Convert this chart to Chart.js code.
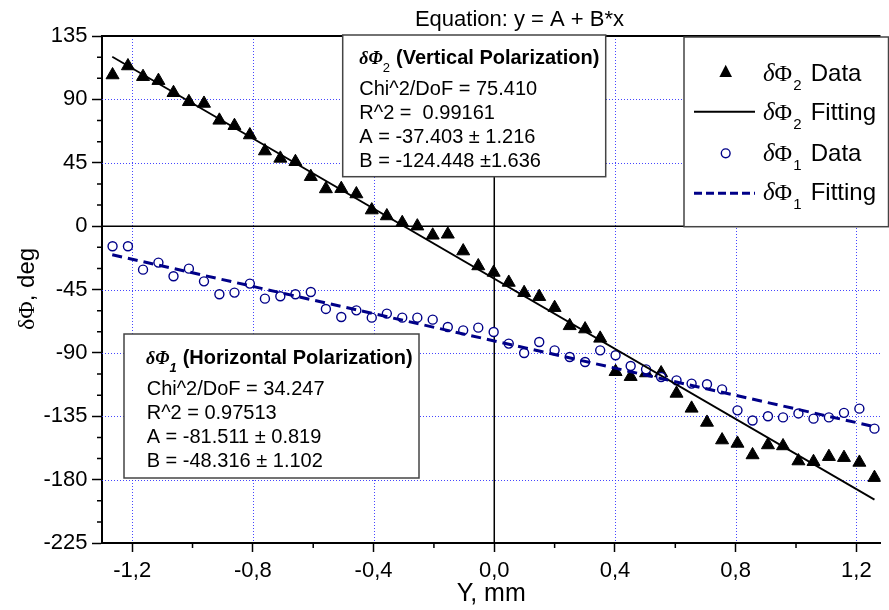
<!DOCTYPE html>
<html>
<head>
<meta charset="utf-8">
<title>dPhi vs Y</title>
<script src="https://cdn.jsdelivr.net/npm/chart.js@4.4.1/dist/chart.umd.min.js"></script>
<style>
	html, body { margin: 0; padding: 0; background: #fff; }
	#phaseChart { display: block; }
</style>
</head>
<body>
<canvas id="phaseChart" width="889" height="610"></canvas>
<script>
var xValues = [
	-1.265, -1.214, -1.164, -1.113, -1.063, -1.012, -0.962, -0.911, -0.861, -0.810,
	-0.760, -0.709, -0.659, -0.608, -0.558, -0.507, -0.457, -0.406, -0.356, -0.305,
	-0.255, -0.204, -0.154, -0.103, -0.053, -0.002, 0.048, 0.099, 0.149, 0.200,
	0.250, 0.301, 0.351, 0.402, 0.452, 0.503, 0.553, 0.604, 0.654, 0.705,
	0.755, 0.806, 0.856, 0.907, 0.957, 1.008, 1.058, 1.109, 1.159, 1.210, 1.260
];
// delta Phi 2 (vertical polarization), triangles
var phi2Data = [
	107.3, 113.7, 106.1, 103.3, 94.7, 88.3, 87.1, 75.1, 71.3, 64.7,
	53.3, 48.1, 45.7, 35.1, 26.4, 26.6, 22.8, 11.4, 7.2, 2.4,
	0.0, -6.5, -5.8, -17.7, -28.3, -32.9, -40.0, -47.3, -50.1, -57.9,
	-70.8, -73.1, -79.7, -103.4, -106.9, -104.3, -104.3, -118.8, -129.4, -139.4,
	-151.9, -154.3, -162.5, -155.4, -156.1, -166.8, -167.3, -163.7, -164.4, -167.8, -178.6
];
// delta Phi 1 (horizontal polarization), open circles
var phi1Data = [
	-14.3, -14.3, -30.9, -25.9, -35.6, -30.2, -39.2, -48.4, -47.2, -40.8,
	-51.5, -49.8, -48.4, -46.8, -58.8, -64.5, -59.8, -65.0, -62.1, -65.0,
	-65.0, -66.4, -71.6, -74.0, -72.1, -75.2, -83.4, -90.1, -82.3, -88.2,
	-92.9, -96.5, -88.2, -91.7, -99.3, -101.7, -107.1, -109.5, -111.8, -112.3,
	-115.9, -130.8, -138.0, -135.0, -135.8, -133.0, -136.7, -135.8, -132.6, -129.6, -143.8
];
// fitted lines, end points only
var fitX = [-1.266, 1.26];
var phi2Fit = [120.2, -194.2];
var phi1Fit = [-20.3, -142.4];

var xTicks = [-1.2, -0.8, -0.4, 0, 0.4, 0.8, 1.2];
var xMinorTicks = [-1.0, -0.6, -0.2, 0.2, 0.6, 1.0];
var yTicks = [-225, -180, -135, -90, -45, 0, 45, 90, 135];
var yMinorTicks = [-210, -195, -165, -150, -120, -105, -75, -60, -30, -15, 15, 30, 60, 75, 105, 120];

var titleText = 'Equation: y = A + B*x';
var phi2Lines = ['Chi^2/DoF = 75.410', 'R^2 =  0.99161', 'A = -37.403 \u00b1 1.216', 'B = -124.448 \u00b11.636'];
var phi1Lines = ['Chi^2/DoF = 34.247', 'R^2 = 0.97513', 'A = -81.511 \u00b1 0.819', 'B = -48.316 \u00b1 1.102'];

(function(window, document, undefined) {
	document.addEventListener('DOMContentLoaded', function() {
		var SANS = '"Liberation Sans", Arial, sans-serif';
		var SERIF = '"Liberation Serif", "Times New Roman", serif';
		var NAVY = '#000088';
		var GRID = 'rgba(50,50,255,0.9)';

		function toPoints(xs, ys) {
			return xs.map(function(x, i) {
				return { x: x, y: ys[i] };
			});
		}

		// draw a piece of text, return the x where the next piece starts
		function seg(ctx, text, font, x, y) {
			ctx.font = font;
			ctx.fillText(text, x, y);
			return x + ctx.measureText(text).width;
		}

		function box(ctx, x0, y0, x1, y1) {
			ctx.save();
			ctx.fillStyle = '#fff';
			ctx.fillRect(x0, y0, x1 - x0, y1 - y0);
			ctx.strokeStyle = '#444';
			ctx.lineWidth = 1.5;
			ctx.strokeRect(x0, y0, x1 - x0, y1 - y0);
			ctx.restore();
		}

		var decor = {
			id: 'decor',
			beforeDatasetsDraw: function(chart) {
				var ctx = chart.ctx;
				var area = chart.chartArea;
				var xs = chart.scales.x;
				var ys = chart.scales.y;

				ctx.save();
				// dotted blue grid
				ctx.strokeStyle = GRID;
				ctx.lineWidth = 1;
				ctx.setLineDash([1, 2]);
				xTicks.forEach(function(v) {
					if (v === 0) return;
					var px = Math.round(xs.getPixelForValue(v)) + 0.5;
					ctx.beginPath();
					ctx.moveTo(px, area.top);
					ctx.lineTo(px, area.bottom);
					ctx.stroke();
				});
				yTicks.forEach(function(v) {
					if (v === 0 || v === 135 || v === -225) return;
					var py = Math.round(ys.getPixelForValue(v)) + 0.5;
					ctx.beginPath();
					ctx.moveTo(area.left, py);
					ctx.lineTo(area.right, py);
					ctx.stroke();
				});
				ctx.setLineDash([]);

				// zero lines
				ctx.strokeStyle = '#000';
				ctx.lineWidth = 1.5;
				var x0 = xs.getPixelForValue(0);
				var y0 = ys.getPixelForValue(0);
				ctx.beginPath();
				ctx.moveTo(x0, area.top);
				ctx.lineTo(x0, area.bottom);
				ctx.moveTo(area.left, y0);
				ctx.lineTo(area.right, y0);
				ctx.stroke();

				// top frame
				ctx.lineWidth = 2;
				ctx.beginPath();
				ctx.moveTo(area.left, area.top);
				ctx.lineTo(area.right, area.top);
				ctx.stroke();

				// minor ticks, outward
				ctx.lineWidth = 1.5;
				ctx.beginPath();
				xMinorTicks.forEach(function(v) {
					var px = xs.getPixelForValue(v);
					ctx.moveTo(px, area.bottom);
					ctx.lineTo(px, area.bottom + 5);
				});
				yMinorTicks.forEach(function(v) {
					var py = ys.getPixelForValue(v);
					ctx.moveTo(area.left, py);
					ctx.lineTo(area.left - 5, py);
				});
				ctx.stroke();
				ctx.restore();
			},
			afterDatasetsDraw: function(chart) {
				var ctx = chart.ctx;
				var x;
				ctx.save();
				ctx.fillStyle = '#000';
				ctx.textBaseline = 'alphabetic';

				// title
				ctx.font = '22px ' + SANS;
				ctx.textAlign = 'center';
				ctx.fillText(titleText, 519.5, 26);
				ctx.textAlign = 'left';

				// y axis title
				ctx.save();
				ctx.translate(34, 289);
				ctx.rotate(-Math.PI / 2);
				ctx.font = '24px ' + SERIF;
				var w1 = ctx.measureText('\u03b4\u03a6').width;
				ctx.font = '24px ' + SANS;
				var w2 = ctx.measureText(', deg').width;
				x = -(w1 + w2) / 2;
				x = seg(ctx, '\u03b4\u03a6', '24px ' + SERIF, x, 0);
				seg(ctx, ', deg', '24px ' + SANS, x, 0);
				ctx.restore();

				// fit result, vertical polarization
				box(ctx, 342.7, 35, 605.7, 176.7);
				x = seg(ctx, '\u03b4\u03a6', 'italic bold 18px ' + SERIF, 359.3, 64);
				seg(ctx, '2', '13px ' + SANS, x, 71.5);
				seg(ctx, '(Vertical Polarization)', 'bold 20px ' + SANS, 396, 64);
				phi2Lines.forEach(function(t, i) {
					seg(ctx, t, '20px ' + SANS, 359.3, 95 + i * 24);
				});

				// fit result, horizontal polarization
				box(ctx, 124, 334, 419, 478);
				x = seg(ctx, '\u03b4\u03a6', 'italic bold 18px ' + SERIF, 146, 364);
				seg(ctx, '1', 'italic bold 13px ' + SANS, x, 371.5);
				seg(ctx, '(Horizontal Polarization)', 'bold 20px ' + SANS, 182.7, 364);
				phi1Lines.forEach(function(t, i) {
					seg(ctx, t, '20px ' + SANS, 146.7, 394.5 + i * 24);
				});

				// legend
				box(ctx, 684, 37, 888.5, 226.7);
				var entries = [
					{ sub: '2', word: 'Data', base: 80.7 },
					{ sub: '2', word: 'Fitting', base: 120.3 },
					{ sub: '1', word: 'Data', base: 160.5 },
					{ sub: '1', word: 'Fitting', base: 200 }
				];
				entries.forEach(function(e) {
					var lx = seg(ctx, '\u03b4', 'italic 25px ' + SERIF, 763, e.base);
					lx = seg(ctx, '\u03a6', '24px ' + SERIF, lx, e.base);
					seg(ctx, e.sub, '15px ' + SANS, lx + 1, e.base + 9);
					seg(ctx, e.word, '24px ' + SANS, 810.7, e.base);
				});

				// legend symbols
				ctx.beginPath();
				ctx.moveTo(725.7, 64.7);
				ctx.lineTo(732, 77);
				ctx.lineTo(719.4, 77);
				ctx.closePath();
				ctx.fill();

				ctx.strokeStyle = '#000';
				ctx.lineWidth = 2;
				ctx.beginPath();
				ctx.moveTo(694, 111.7);
				ctx.lineTo(755, 111.7);
				ctx.stroke();

				ctx.strokeStyle = NAVY;
				ctx.lineWidth = 1.4;
				ctx.beginPath();
				ctx.arc(725.7, 153.3, 4.4, 0, Math.PI * 2);
				ctx.stroke();

				ctx.lineWidth = 3;
				ctx.setLineDash([8, 4]);
				ctx.beginPath();
				ctx.moveTo(694, 193.3);
				ctx.lineTo(755, 193.3);
				ctx.stroke();
				ctx.setLineDash([]);

				ctx.restore();
			}
		};

		var ctx = document.querySelector('#phaseChart');
		var phaseChart = new Chart(ctx, {
			type: 'scatter',
			data: {
				datasets: [{
					label: '\u03b4\u03a62 Data',
					data: toPoints(xValues, phi2Data),
					pointStyle: 'triangle',
					pointRadius: 7.5,
					backgroundColor: '#000',
					borderColor: '#000',
					borderWidth: 1,
					showLine: false,
					order: 4
				}, {
					label: '\u03b4\u03a61 Data',
					data: toPoints(xValues, phi1Data),
					pointStyle: 'circle',
					pointRadius: 4.5,
					backgroundColor: '#fff',
					borderColor: NAVY,
					borderWidth: 1.4,
					showLine: false,
					order: 3
				}, {
					label: '\u03b4\u03a62 Fitting',
					data: toPoints(fitX, phi2Fit),
					showLine: true,
					pointRadius: 0,
					borderColor: '#000',
					borderWidth: 1.8,
					order: 2
				}, {
					label: '\u03b4\u03a61 Fitting',
					data: toPoints(fitX, phi1Fit),
					showLine: true,
					pointRadius: 0,
					borderColor: NAVY,
					borderWidth: 3,
					borderDash: [10, 6],
					order: 1
				}]
			},
			options: {
				responsive: false,
				animation: false,
				events: [],
				layout: {
					padding: { top: 36, right: 1, left: 0, bottom: 0 }
				},
				plugins: {
					legend: { display: false },
					title: { display: false },
					tooltip: { enabled: false }
				},
				scales: {
					x: {
						type: 'linear',
						min: -1.3,
						max: 1.28,
						afterFit: function(scale) {
							scale.height = 67;
						},
						afterBuildTicks: function(scale) {
							scale.ticks = xTicks.map(function(v) {
								return { value: v };
							});
						},
						ticks: {
							autoSkip: false,
							maxRotation: 0,
							padding: 6,
							color: '#000',
							font: { size: 22, family: SANS },
							callback: function(v) {
								return Number(v).toFixed(1).replace('.', ',');
							}
						},
						grid: {
							drawOnChartArea: false,
							tickLength: 9,
							tickColor: '#000',
							tickWidth: 1.5
						},
						border: { color: '#000', width: 2 },
						title: {
							display: true,
							text: 'Y, mm',
							color: '#000',
							font: { size: 25, family: SANS },
							padding: { top: 0, bottom: 1 }
						}
					},
					y: {
						type: 'linear',
						min: -225,
						max: 135,
						afterFit: function(scale) {
							scale.width = 102;
						},
						afterBuildTicks: function(scale) {
							scale.ticks = yTicks.map(function(v) {
								return { value: v };
							});
						},
						ticks: {
							padding: 4.5,
							color: '#000',
							font: { size: 22, family: SANS },
							callback: function(v) {
								return String(v);
							}
						},
						grid: {
							drawOnChartArea: false,
							tickLength: 10,
							tickColor: '#000',
							tickWidth: 1.5
						},
						border: { color: '#000', width: 2 }
					}
				}
			},
			plugins: [decor]
		});
	}, false);
})(window, document);
</script>
</body>
</html>
